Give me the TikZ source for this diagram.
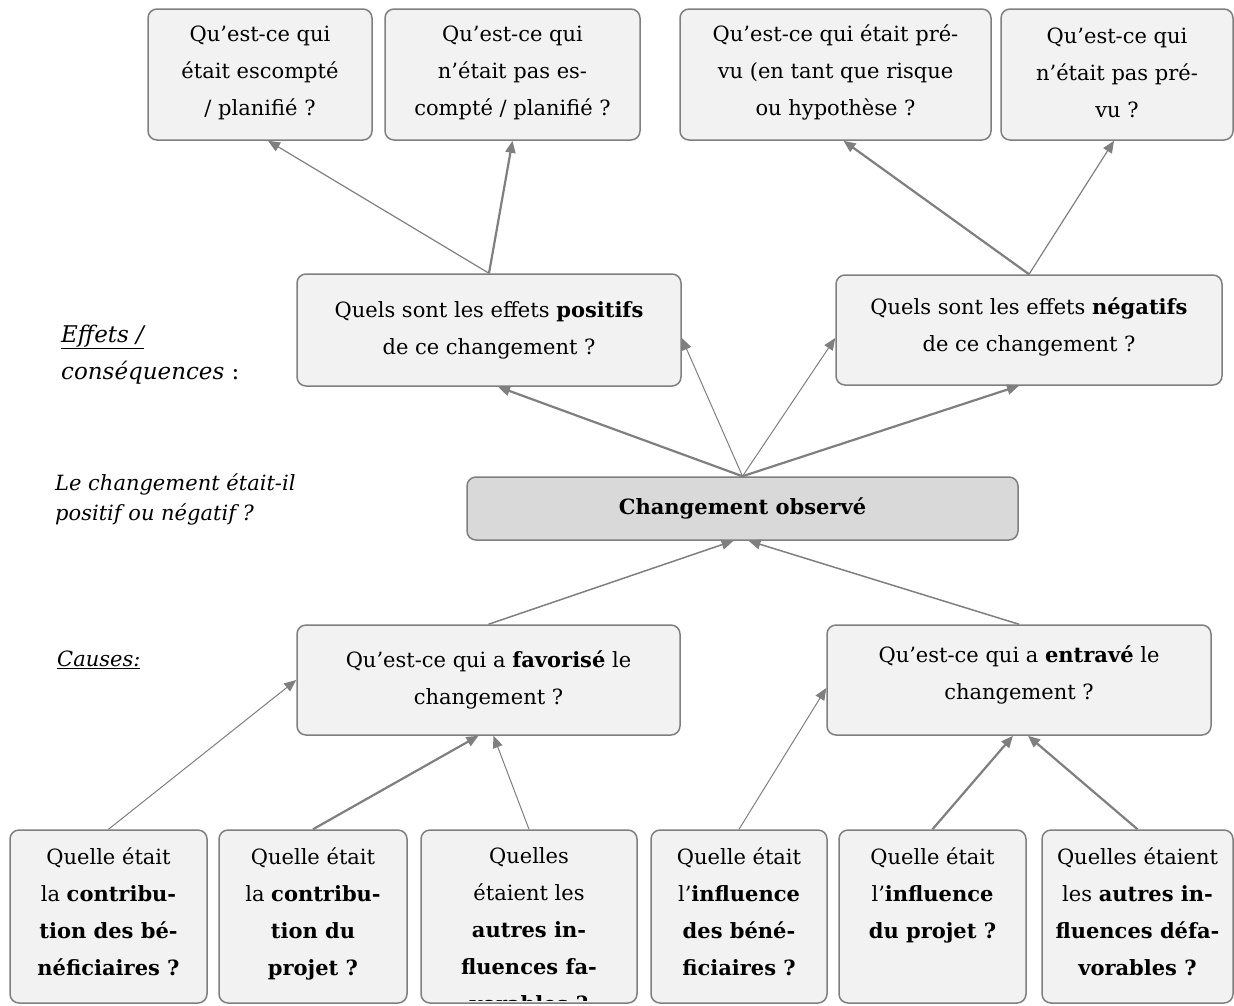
\documentclass[tikz,border=0pt]{standalone}
\usepackage{fontspec}
\setmainfont{DejaVu Serif}
\usetikzlibrary{arrows.meta}
\definecolor{boxfill}{HTML}{F2F2F2}
\definecolor{centfill}{HTML}{D9D9D9}
\definecolor{edgegray}{HTML}{7F7F7F}
\begin{document}
\begin{tikzpicture}[x=1pt,y=-1pt,
  box/.style={draw=edgegray, line width=1.5pt, fill=boxfill, rounded corners=9pt, inner sep=0pt},
  txt/.style={align=center, inner sep=0pt, font=\fontsize{21pt}{37pt}\selectfont},
  lbl/.style={inner sep=0pt, anchor=base west, font=\fontsize{23pt}{30pt}\selectfont\itshape},
  arr/.style={draw=edgegray, -{Triangle[length=12pt,width=10pt]}, line width=1.2pt},
  thk/.style={line width=2.2pt},
]
\useasboundingbox (0,0) rectangle (1234,1005);
\clip (0,0) rectangle (1234,1005);

% top row
\node[box, minimum width=224pt, minimum height=131pt] (t1) at (260,74.5) {};
\node[box, minimum width=255pt, minimum height=131pt] (t2) at (512.5,74.5) {};
\node[box, minimum width=311pt, minimum height=131pt] (t3) at (835.5,74.5) {};
\node[box, minimum width=232pt, minimum height=131pt] (t4) at (1117,74.5) {};
\node[txt] (t1t) at ([yshift=2pt]t1.center) {Qu’est-ce qui\\était escompté\\/ planifié ?};
\node[txt] (t2t) at ([yshift=2pt]t2.center) {Qu’est-ce qui\\n’était pas es-\\compté / planifié ?};
\node[txt] (t3t) at ([yshift=2pt]t3.center) {Qu’est-ce qui était pré-\\vu (en tant que risque\\ou hypothèse ?};
\node[txt] (t4t) at ([yshift=2pt]t4.center) {Qu’est-ce qui\\n’était pas pré-\\vu ?};

% effects
\node[box, minimum width=384pt, minimum height=112pt] (pos) at (489,330) {};
\node[box, minimum width=386pt, minimum height=110pt] (neg) at (1029,330) {};
\node[txt] (post) at (pos.center) {Quels sont les effets \textbf{positifs}\\de ce changement ?};
\node[txt] (negt) at ([yshift=3pt]neg.center) {Quels sont les effets \textbf{négatifs}\\de ce changement ?};

% central
\node[box, fill=centfill, minimum width=551pt, minimum height=63pt] (cen) at (742.5,508.5) {};
\node[txt] (cent) at (cen.center) {\textbf{Changement observé}};

% causes
\node[box, minimum width=383pt, minimum height=110pt] (fav) at (488.5,680) {};
\node[box, minimum width=384pt, minimum height=110pt] (ent) at (1019,680) {};
\node[txt] (favt) at (fav.center) {Qu’est-ce qui a \textbf{favorisé} le\\changement ?};
\node[txt] (entt) at ([yshift=5pt]ent.center) {Qu’est-ce qui a \textbf{entravé} le\\changement ?};

% bottom row
\node[box, minimum width=197pt, minimum height=173pt] (b1) at (108.5,916.5) {};
\node[box, minimum width=188pt, minimum height=173pt] (b2) at (313,916.5) {};
\node[box, minimum width=216pt, minimum height=173pt] (b3) at (529,916.5) {};
\node[box, minimum width=176pt, minimum height=173pt] (b4) at (739,916.5) {};
\node[box, minimum width=187pt, minimum height=173pt] (b5) at (932.5,916.5) {};
\node[box, minimum width=191pt, minimum height=173pt] (b6) at (1137.5,916.5) {};
\node[txt, anchor=north] (b1t) at (108.5,847) {Quelle était\\la \textbf{contribu-}\\\textbf{tion des bé-}\\\textbf{néficiaires ?}};
\node[txt, anchor=north] (b2t) at (313,847) {Quelle était\\la \textbf{contribu-}\\\textbf{tion du}\\\textbf{projet ?}};
\begin{scope}
\clip (b3.north west) rectangle ([yshift=3pt]b3.south east);
\node[txt, anchor=north] (b3t) at (529,847) {Quelles\\étaient les\\\textbf{autres in-}\\\textbf{fluences fa-}\\\textbf{vorables ?}};
\end{scope}
\node[txt, anchor=north] (b4t) at (739,847) {Quelle était\\l’\textbf{influence}\\\textbf{des béné-}\\\textbf{ficiaires ?}};
\node[txt, anchor=north] (b5t) at (932.5,847) {Quelle était\\l’\textbf{influence}\\\textbf{du projet ?}};
\node[txt, anchor=north] (b6t) at (1137.5,847) {Quelles étaient\\les \textbf{autres in-}\\\textbf{fluences défa-}\\\textbf{vorables ?}};

% left labels
\node[lbl] (eff1) at (61,342) {\underline{Effets /}};
\node[lbl] (eff2) at (61,379) {conséquences \upshape:};
\node[lbl, font=\fontsize{21pt}{30pt}\selectfont\itshape] (q1) at (55,490) {Le changement était-il};
\node[lbl, font=\fontsize{21pt}{30pt}\selectfont\itshape] (q2) at (55,520) {positif ou négatif ?};
\node[lbl, font=\fontsize{21pt}{30pt}\selectfont\itshape] (caus) at (57,666) {\underline{Causes:}};

% arrows
\draw[arr] (pos.north) -- ([xshift=8pt]t1.south);
\draw[arr,thk] (pos.north) -- (t2.south);
\draw[arr,thk] (neg.north) -- ([xshift=8pt]t3.south);
\draw[arr] (neg.north) -- ([xshift=-3pt]t4.south);
\draw[arr,thk] (cen.north) -- ([xshift=9pt]pos.south);
\draw[arr,line width=1pt] (cen.north) -- ([yshift=-8pt]pos.east);
\draw[arr,line width=1pt] (cen.north) -- ([yshift=-8pt]neg.west);
\draw[arr,thk] (cen.north) -- ([xshift=-10pt]neg.south);
\draw[arr,line width=1.5pt] (fav.north) -- ([xshift=-9pt]cen.south);
\draw[arr,line width=1.5pt] (ent.north) -- ([xshift=6pt]cen.south);
\draw[arr,line width=1pt] (b1.north) -- (fav.west);
\draw[arr,thk] (b2.north) -- ([xshift=-10pt]fav.south);
\draw[arr,line width=1pt] (b3.north) -- ([xshift=5pt]fav.south);
\draw[arr,line width=1pt] (b4.north) -- ([yshift=-8pt]ent.west);
\draw[arr,thk] (b5.north) -- ([xshift=-6pt]ent.south);
\draw[arr,thk] (b6.north) -- ([xshift=9pt]ent.south);
\end{tikzpicture}
\end{document}
